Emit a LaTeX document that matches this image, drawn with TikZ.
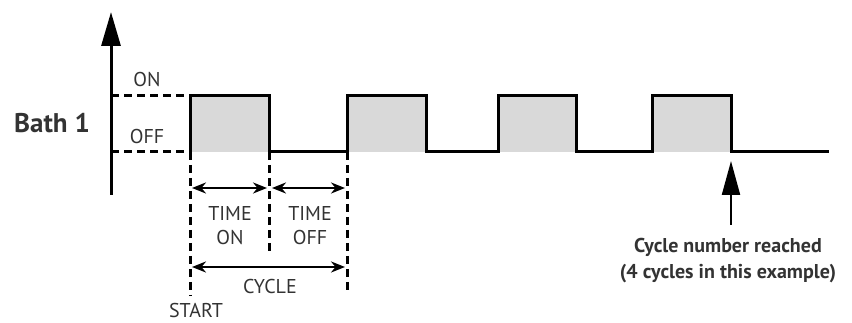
\documentclass[tikz,border=0pt]{standalone}
\usepackage{fontspec}
\setmainfont{PT Sans}
\usetikzlibrary{arrows.meta}
\definecolor{pulsefill}{HTML}{D9D9D9}
\definecolor{txt}{HTML}{333333}
\tikzset{
  wave/.style={line width=3pt, line join=miter},
  guide/.style={line width=3pt, dash pattern=on 8pt off 5pt},
  dim/.style={line width=2.2pt, {Stealth[length=14pt,width=11pt]}-{Stealth[length=14pt,width=11pt]}},
  lbl/.style={text=txt, font=\fontsize{20}{24}\selectfont, inner sep=0pt, align=center},
  blbl/.style={text=txt, font=\fontsize{20}{26}\selectfont\bfseries, inner sep=0pt, align=center},
}
\begin{document}
\begin{tikzpicture}[x=1pt,y=-1pt]
\useasboundingbox (0,0) rectangle (852,323);
% fills
\foreach \a/\b in {190/269,347/426,498/576,652/731}{
  \fill[pulsefill] (\a,96) rectangle (\b,152);
}
% axis
\coordinate (ax0) at (111,195);
\coordinate (ax1) at (111,12);
\draw[line width=3pt, -{Triangle[length=34pt,width=19pt]}] (ax0) -- (ax1);
% dashed level guides
\coordinate (s) at (190,96);
\coordinate (sb) at (190,152);
\draw[guide] (111,96) -- (s);
\draw[guide] (111,152) -- (sb);
% waveform
\draw[wave] (sb) -- (190,96) -- (269,96) -- (269,152) -- (347,152) -- (347,96) -- (426,96) -- (426,152)
  -- (498,152) -- (498,96) -- (576,96) -- (576,152) -- (652,152) -- (652,96) -- (731,96) -- (731,152) -- (829,152);
% vertical guides
\coordinate (g1) at (190,296);
\coordinate (g2t) at (269,152);
\coordinate (g2) at (269,252);
\coordinate (g3t) at (347,152);
\coordinate (g3) at (347,294);
\draw[guide] (sb) -- (g1);
\draw[guide] (g2t) -- (g2);
\draw[guide] (g3t) -- (g3);
% dimension arrows
\coordinate (d1a) at (192,188);
\coordinate (d1b) at (267,188);
\coordinate (d2a) at (272,188);
\coordinate (d2b) at (345,188);
\coordinate (d3a) at (192,267);
\coordinate (d3b) at (345,267);
\draw[dim] (d1a) -- (d1b);
\draw[dim] (d2a) -- (d2b);
\draw[dim] (d3a) -- (d3b);
% labels
\node[lbl] (lon) at (147,80) {ON};
\node[lbl] (loff) at (147,137) {OFF};
\node[text=txt, font=\fontsize{27}{30}\selectfont\bfseries, inner sep=0pt] (bath) at (52,123) {Bath 1};
\node[lbl] (ton) at (230,226) {TIME\\ON};
\node[lbl] (toff) at (310,226) {TIME\\OFF};
\node[lbl] (cyc) at (270,287) {CYCLE};
\node[lbl] (start) at (196,310) {START};
% cycle number arrow
\node[blbl] (note) at (728,261) {Cycle number reached\\(4 cycles in this example)};
\coordinate (tip) at (731,161);
\draw[line width=2.2pt, -{Triangle[length=34pt,width=18pt]}] (731,225) -- (tip);
\end{tikzpicture}
\end{document}
